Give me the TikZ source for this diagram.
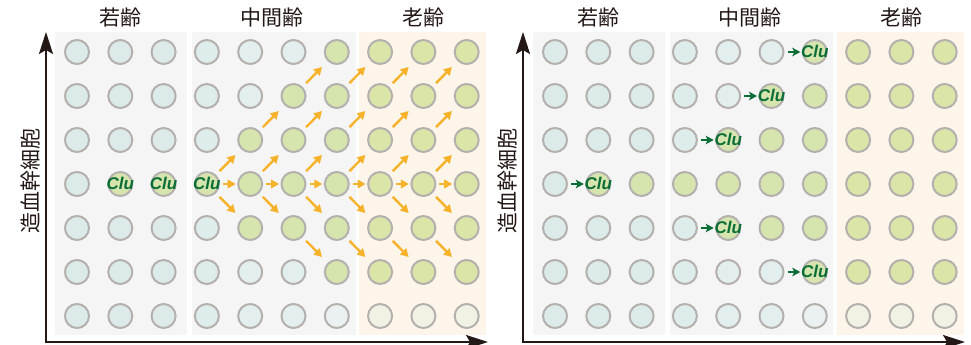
\documentclass[tikz,border=0pt]{standalone}
\usepackage{fontspec}
\setmainfont{Liberation Sans}
\newfontfamily\cjk{Noto Sans CJK JP}
\usetikzlibrary{arrows.meta}
\definecolor{cY}{HTML}{DCEBEA}
\definecolor{cMa}{HTML}{DEECEB}
\definecolor{cMb}{HTML}{E3EEEE}
\definecolor{cMc}{HTML}{EAF1F0}
\definecolor{cg}{HTML}{D6E5AE}
\definecolor{cG}{HTML}{DBE5A8}
\definecolor{cC}{HTML}{F2F2E4}
\definecolor{cellborder}{HTML}{B4B0AE}
\definecolor{bgGray}{HTML}{F5F5F5}
\definecolor{bgOrange}{HTML}{FEF5EA}
\definecolor{arrOrange}{HTML}{F6B22A}
\definecolor{cluGreen}{HTML}{0B6D37}
\definecolor{axisColor}{HTML}{231815}
\begin{document}
\begin{tikzpicture}[x=1pt,y=-1pt,
  cell/.style={circle,draw=cellborder,line width=2pt,minimum size=24pt,inner sep=0pt},
  clulabel/.style={text=cluGreen,inner sep=0pt,yshift=1pt,font=\fontsize{17}{17}\selectfont\bfseries\itshape},
  orarrow/.style={draw=arrOrange,line width=2.4pt,-{Triangle[length=8pt,width=8.5pt]}},
  grarrow/.style={draw=cluGreen,line width=2.2pt,-{Stealth[length=8pt,width=8.5pt,inset=2pt]},shorten <=3pt,shorten >=1.5pt},
  axisline/.style={draw=axisColor,line width=2pt,{Stealth[length=22pt,width=14pt,inset=4pt]}-{Stealth[length=22pt,width=14pt,inset=4pt]}},
  heading/.style={text=axisColor,inner sep=0pt,font=\cjk\fontsize{21}{21}\selectfont},
  ylabel/.style={text=axisColor,inner sep=0pt,rotate=90,font=\cjk\fontsize{21}{21}\selectfont}]
\useasboundingbox (0,0) rectangle (971,345);
% panel backgrounds
\fill[bgGray] (55,32) rectangle (187,335);
\fill[bgGray] (192,32) rectangle (356,335);
\fill[bgOrange] (359,32) rectangle (486,335);
\fill[bgGray] (533,32) rectangle (665,335);
\fill[bgGray] (670,32) rectangle (833,335);
\fill[bgOrange] (837,32) rectangle (964,335);
% cells
\foreach \p/\xs in {L/77,R/555} {
  \foreach \r/\row in {
    1/{cY,cY,cY,cMa,cMb,cMb,cg,cG,cG,cG},
    2/{cY,cY,cY,cMa,cMb,cg,cg,cG,cG,cG},
    3/{cY,cY,cY,cMa,cg,cg,cg,cG,cG,cG},
    4/{cY,cg,cg,cg,cg,cg,cg,cG,cG,cG},
    5/{cY,cY,cY,cMa,cg,cg,cg,cG,cG,cG},
    6/{cY,cY,cY,cMa,cMb,cMb,cg,cG,cG,cG},
    7/{cY,cY,cY,cMa,cMb,cMb,cMc,cC,cC,cC}} {
    \foreach \f [count=\c] in \row {
      \node[cell,fill=\f] (\p\c-\r) at ({\xs+43.3*(\c-1)},{52+44*(\r-1)}) {};
    }
  }
}
% orange spreading arrows (left)
\foreach \c [evaluate=\c as \n using int(\c+1)] in {4,...,9} {
  \draw[orarrow,shorten <=3pt,shorten >=1.5pt] (L\c-4) -- (L\n-4);
  \draw[orarrow,shorten <=5pt,shorten >=8pt] (L\c-4) -- (L\n-3);
  \draw[orarrow,shorten <=5pt,shorten >=8pt] (L\c-4) -- (L\n-5);
}
\foreach \c [evaluate=\c as \n using int(\c+1)] in {5,...,9} {
  \draw[orarrow,shorten <=5pt,shorten >=8pt] (L\c-3) -- (L\n-2);
}
\foreach \c [evaluate=\c as \n using int(\c+1)] in {6,...,9} {
  \draw[orarrow,shorten <=5pt,shorten >=8pt] (L\c-2) -- (L\n-1);
  \draw[orarrow,shorten <=5pt,shorten >=8pt] (L\c-5) -- (L\n-6);
}
% Clu labels left
\foreach \c in {2,3,4} { \node[clulabel] (cluL\c) at (L\c-4) {Clu}; }
% green arrows right
\draw[grarrow] (R6-1) -- (R7-1);
\draw[grarrow] (R5-2) -- (R6-2);
\draw[grarrow] (R4-3) -- (R5-3);
\draw[grarrow] (R1-4) -- (R2-4);
\draw[grarrow] (R4-5) -- (R5-5);
\draw[grarrow] (R6-6) -- (R7-6);
\foreach \c/\r in {7/1,6/2,5/3,2/4,5/5,7/6} { \node[clulabel] (cluR\c-\r) at (R\c-\r) {Clu}; }
% axes
\coordinate (LT) at (46,32); \coordinate (LO) at (46,342); \coordinate (LE) at (488,342);
\coordinate (RT) at (523,32); \coordinate (RO) at (523,342); \coordinate (RE) at (965,342);
\draw[axisline] (LT) -- (LO) -- (LE);
\draw[axisline] (RT) -- (RO) -- (RE);
% labels
\node[heading] (hL1) at (120,17.5) {若齢};
\node[heading] (hL2) at (272,17.5) {中間齢};
\node[heading] (hL3) at (423,17.5) {老齢};
\node[heading] (hR1) at (598,17.5) {若齢};
\node[heading] (hR2) at (750,17.5) {中間齢};
\node[heading] (hR3) at (901,17.5) {老齢};
\node[ylabel] (yL) at (31,181) {造血幹細胞};
\node[ylabel] (yR) at (508,181) {造血幹細胞};
\end{tikzpicture}
\end{document}
